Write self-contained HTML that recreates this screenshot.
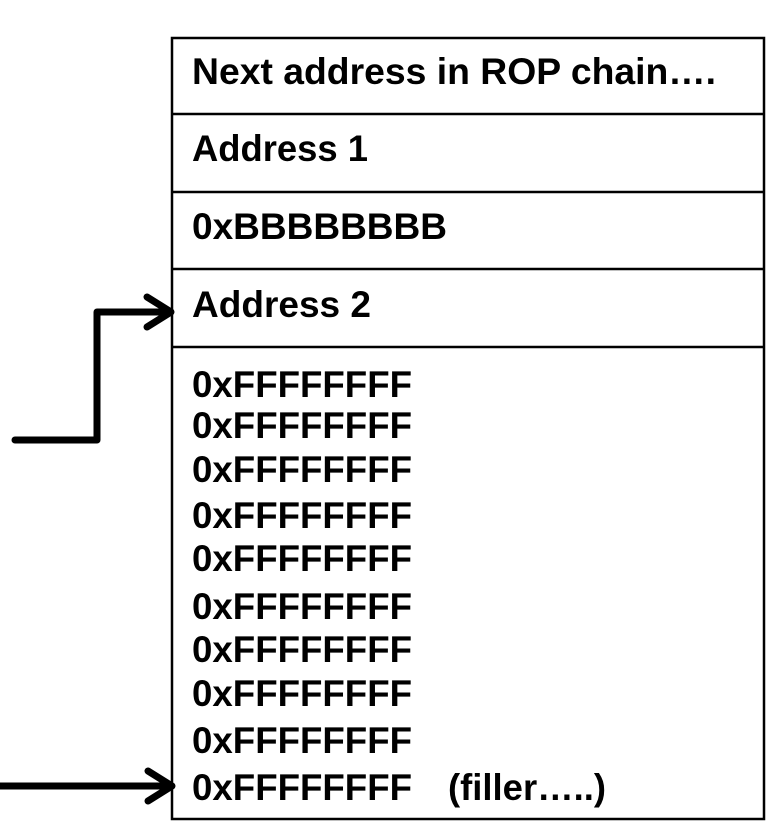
<!DOCTYPE html>
<html><head><style>html,body{margin:0;padding:0;background:#fff;}</style></head>
<body>
<svg width="782" height="829" xmlns="http://www.w3.org/2000/svg" style="display:block">
<rect x="172" y="38" width="592" height="781" fill="#fff" stroke="#000" stroke-width="2.5"/>
<g stroke="#000" stroke-width="2.5">
<line x1="172" y1="114" x2="764" y2="114"/>
<line x1="172" y1="192" x2="764" y2="192"/>
<line x1="172" y1="269" x2="764" y2="269"/>
<line x1="172" y1="347" x2="764" y2="347"/>
</g>
<g fill="none" stroke="#000" stroke-width="7" stroke-linejoin="round" stroke-linecap="round">
<polyline points="15,440 97,440 97,312 170,312"/>
<polyline points="147,297 171,312 147,327"/>
<polyline points="0,786 170,786" stroke-linecap="butt"/>
<polyline points="148,771 172,786 148,801"/>
</g>
<g font-family="Liberation Sans, Arial, sans-serif" font-weight="bold" font-size="37" fill="#000">
<text x="192" y="84" textLength="524" lengthAdjust="spacingAndGlyphs">Next address in ROP chain….</text>
<text x="192" y="161" textLength="176" lengthAdjust="spacingAndGlyphs">Address 1</text>
<text x="192" y="239" textLength="255" lengthAdjust="spacingAndGlyphs">0xBBBBBBBB</text>
<text x="192" y="317" textLength="179" lengthAdjust="spacingAndGlyphs">Address 2</text>
<text x="192" y="397" textLength="220" lengthAdjust="spacingAndGlyphs">0xFFFFFFFF</text>
<text x="192" y="438" textLength="220" lengthAdjust="spacingAndGlyphs">0xFFFFFFFF</text>
<text x="192" y="482" textLength="220" lengthAdjust="spacingAndGlyphs">0xFFFFFFFF</text>
<text x="192" y="528" textLength="220" lengthAdjust="spacingAndGlyphs">0xFFFFFFFF</text>
<text x="192" y="571" textLength="220" lengthAdjust="spacingAndGlyphs">0xFFFFFFFF</text>
<text x="192" y="619" textLength="220" lengthAdjust="spacingAndGlyphs">0xFFFFFFFF</text>
<text x="192" y="662" textLength="220" lengthAdjust="spacingAndGlyphs">0xFFFFFFFF</text>
<text x="192" y="706" textLength="220" lengthAdjust="spacingAndGlyphs">0xFFFFFFFF</text>
<text x="192" y="753" textLength="220" lengthAdjust="spacingAndGlyphs">0xFFFFFFFF</text>
<text x="192" y="800" textLength="220" lengthAdjust="spacingAndGlyphs">0xFFFFFFFF</text>
<text x="448" y="800" textLength="158" lengthAdjust="spacingAndGlyphs">(filler…..)</text>
</g>
</svg>
</body></html>
